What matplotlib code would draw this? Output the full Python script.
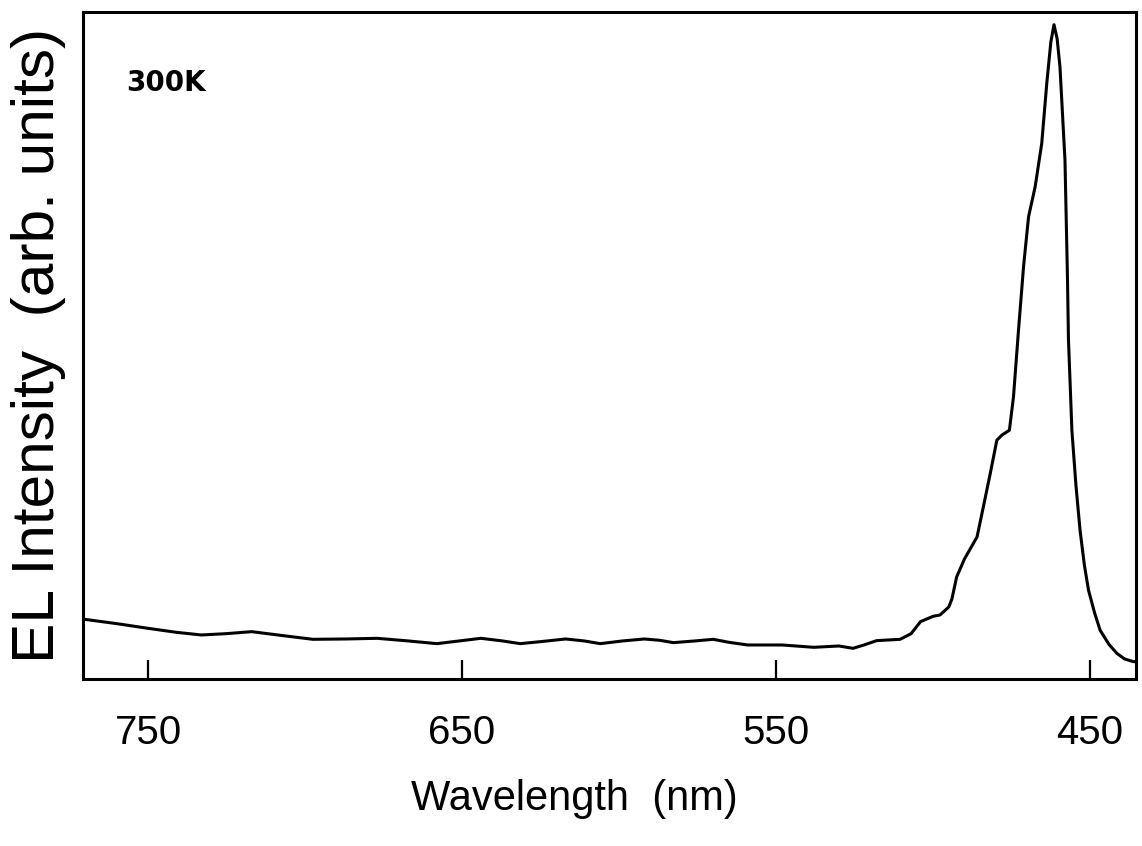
import numpy as np
import matplotlib.pyplot as plt

# EL spectrum at 300 K (nm, arb. units)
wavelength = [771, 760, 750, 741, 733, 725, 717, 707, 697.5, 687, 677, 667,
              658, 651, 644, 637, 631.5, 625, 617, 611, 606, 599, 592, 587,
              582.7, 576, 570, 565, 559, 548, 538, 530, 525.5, 522, 518,
              510.5, 507, 504, 500, 497.8, 495, 494, 492.5, 490, 486, 484,
              481.8, 479.7, 478, 475.7, 474.4, 472.8, 471.2, 469.6, 467.5,
              465.4, 463.8, 462.5, 461.5, 460.5, 459.6, 458.0, 457.2, 456.9,
              455.8, 454.5, 453.2, 451.8, 450.5, 448.5, 446.8, 444, 441.5,
              439, 436.2, 435.4]
intensity = [0.090, 0.083, 0.076, 0.070, 0.066, 0.068, 0.071, 0.065, 0.0595,
             0.060, 0.061, 0.057, 0.053, 0.057, 0.061, 0.057, 0.053, 0.056,
             0.060, 0.057, 0.053, 0.057, 0.060, 0.058, 0.0545, 0.057, 0.0595,
             0.055, 0.051, 0.051, 0.0475, 0.0495, 0.046, 0.051, 0.0575,
             0.0595, 0.068, 0.086, 0.094, 0.096, 0.108, 0.120, 0.153, 0.180,
             0.213, 0.258, 0.308, 0.358, 0.366, 0.373, 0.423, 0.523, 0.618,
             0.693, 0.738, 0.803, 0.893, 0.955, 0.981, 0.960, 0.918, 0.778,
             0.600, 0.510, 0.373, 0.290, 0.223, 0.170, 0.133, 0.098, 0.073,
             0.052, 0.0385, 0.030, 0.026, 0.026]

xticks = [750, 650, 550, 450]

plt.rcParams['font.family'] = ['Liberation Sans', 'DejaVu Sans']

fig = plt.figure(figsize=(11.42, 8.46), dpi=100)
ax = fig.add_axes([0.0727, 0.1974, 0.922, 0.7884])

ax.plot(wavelength, intensity, color='black', lw=2.2)

ax.set_xlim(770.7, 435.4)
ax.set_ylim(0, 1.0)

ax.set_xticks(xticks)
ax.set_xticklabels([str(t) for t in xticks])
ax.tick_params(axis='x', direction='in', length=14, width=1.6,
               labelsize=29, pad=25)
ax.set_yticks([])

for s in ax.spines.values():
    s.set_linewidth(2.2)

ax.set_xlabel('Wavelength  (nm)', fontsize=30)
ax.xaxis.set_label_coords(0.467, -0.150)
ax.set_ylabel('EL Intensity  (arb. units)', fontsize=43.5)
ax.yaxis.set_label_coords(-0.016, 0.5)

# temperature tag, top left
ax.text(0.041, 0.893, '300K', transform=ax.transAxes, fontsize=20,
        fontweight='bold', family='DejaVu Sans', ha='left', va='center')

fig.savefig('out.png', dpi=100)
